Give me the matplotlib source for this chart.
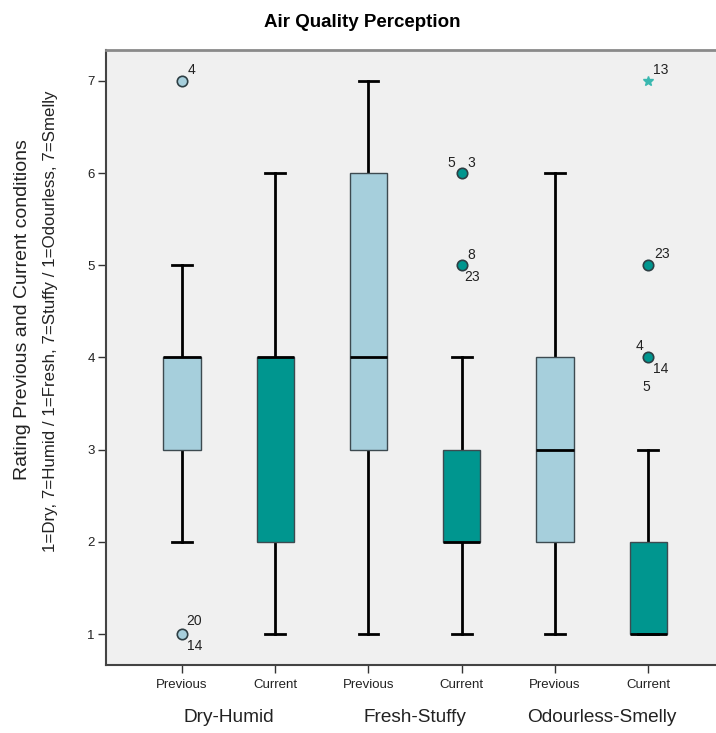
import matplotlib
matplotlib.use("Agg")
import matplotlib.pyplot as plt

plt.rcParams['font.family'] = ['Liberation Sans', 'DejaVu Sans']

# ---- data ----
groups = ["Dry-Humid", "Fresh-Stuffy", "Odourless-Smelly"]
conditions = ["Previous", "Current", "Previous", "Current", "Previous", "Current"]
whisker_low = [2, 1, 1, 1, 1, 1]
q1 = [3, 2, 3, 2, 2, 1]
median = [4, 4, 4, 2, 3, 1]
q3 = [4, 4, 6, 3, 4, 2]
whisker_high = [5, 6, 7, 4, 6, 3]
# outliers: box index, value, case labels
outlier_box = [0, 0, 3, 3, 5, 5]
outlier_val = [7, 1, 6, 5, 5, 4]
outlier_labels = [["4"], ["20", "14"], ["5", "3"], ["8", "23"], ["23"], ["4", "14", "5"]]
extreme_box = [5]
extreme_val = [7]
extreme_labels = [["13"]]

title = "Air Quality Perception"
ylabel1 = "Rating Previous and Current conditions"
ylabel2 = "1=Dry, 7=Humid / 1=Fresh, 7=Stuffy / 1=Odourless, 7=Smelly"

# ---- style ----
c_prev = "#a6cfdc"
c_curr = "#00968f"
c_star = "#3ab8b0"
bg = "#f0f0f0"

fig = plt.figure(figsize=(7.16, 7.33), dpi=100)
ax = fig.add_axes([0.148, 0.0928, 0.855, 0.839])
ax.set_facecolor(bg)

positions = list(range(len(conditions)))
stats = []
for i in positions:
    stats.append(dict(med=median[i], q1=q1[i], q3=q3[i],
                      whislo=whisker_low[i], whishi=whisker_high[i], fliers=[]))

bp = ax.bxp(stats, positions=positions, widths=0.40, patch_artist=True,
            showfliers=False,
            boxprops=dict(edgecolor="#3d4a50", linewidth=1.0),
            medianprops=dict(color="black", linewidth=2.0),
            whiskerprops=dict(color="black", linewidth=2.0),
            capprops=dict(color="black", linewidth=2.0),
            capwidths=0.21)
for i, patch in enumerate(bp['boxes']):
    patch.set_facecolor(c_prev if conditions[i] == "Previous" else c_curr)
    patch.set_zorder(2)
for w in bp['whiskers']:
    w.set_zorder(1)

def label_offsets(labels, box, val):
    if box == 0 and val == 7:
        return [(6, 4)]
    if box == 0 and val == 1:
        return [(4, 6), (5, -19)]
    if box == 3 and val == 6:
        return [(-14, 3), (6, 3)]
    if box == 3 and val == 5:
        return [(6, 3), (3, -19)]
    if box == 5 and val == 5:
        return [(6, 4)]
    if box == 5 and val == 4:
        return [(-13, 4), (5, -19), (-6, -37)]
    return [(6, 3)] * len(labels)

lab_fs = 10
for b, v, labs in zip(outlier_box, outlier_val, outlier_labels):
    col = c_prev if conditions[b] == "Previous" else c_curr
    ax.plot([positions[b]], [v], 'o', ms=7.5, mfc=col, mec="#2e3f44", mew=1.2, zorder=4)
    for lab, (dx, dy) in zip(labs, label_offsets(labs, b, v)):
        ax.annotate(lab, (positions[b], v), xytext=(dx, dy), textcoords='offset pixels',
                    fontsize=lab_fs, color="#222222", ha='left', va='bottom')

for b, v, labs in zip(extreme_box, extreme_val, extreme_labels):
    ax.plot([positions[b]], [v], '*', ms=7, color=c_star, zorder=4)
    for lab in labs:
        ax.annotate(lab, (positions[b], v), xytext=(5, 4), textcoords='offset pixels',
                    fontsize=lab_fs, color="#222222", ha='left', va='bottom')

ax.set_xlim(-0.815, 5.75)
ax.set_ylim(0.664, 7.336)
ax.set_xticks(positions)
ax.set_xticklabels(conditions, fontsize=9.5)
ax.set_yticks([1, 2, 3, 4, 5, 6, 7])
ax.set_yticklabels(["1", "2", "3", "4", "5", "6", "7"], fontsize=9.5)
ax.tick_params(axis='both', direction='out', length=6, width=1.0, color="#333333", labelcolor="#222222")
ax.tick_params(axis='x', pad=4)
ax.tick_params(axis='y', pad=2)

for s in ["left", "bottom"]:
    ax.spines[s].set_color("#444444")
    ax.spines[s].set_linewidth(1.5)
ax.spines["top"].set_color("#8a8a8a")
ax.spines["top"].set_linewidth(2.0)
ax.spines["right"].set_visible(False)

for gi, g in enumerate(groups):
    xc = (positions[2 * gi] + positions[2 * gi + 1]) / 2
    ax.text(xc, -0.085, g, transform=ax.get_xaxis_transform(), ha='center', va='center',
            fontsize=13.7, color="#222222")

fig.text(0.506, 0.969, title, ha='center', va='center', fontsize=13.5, fontweight='bold')
fig.text(0.031, 0.577, ylabel1, rotation=90, ha='center', va='center', fontsize=14, color="#222222")
fig.text(0.070, 0.562, ylabel2, rotation=90, ha='center', va='center', fontsize=12.2, color="#222222")

fig.savefig("out.png", dpi=100, facecolor="white")
